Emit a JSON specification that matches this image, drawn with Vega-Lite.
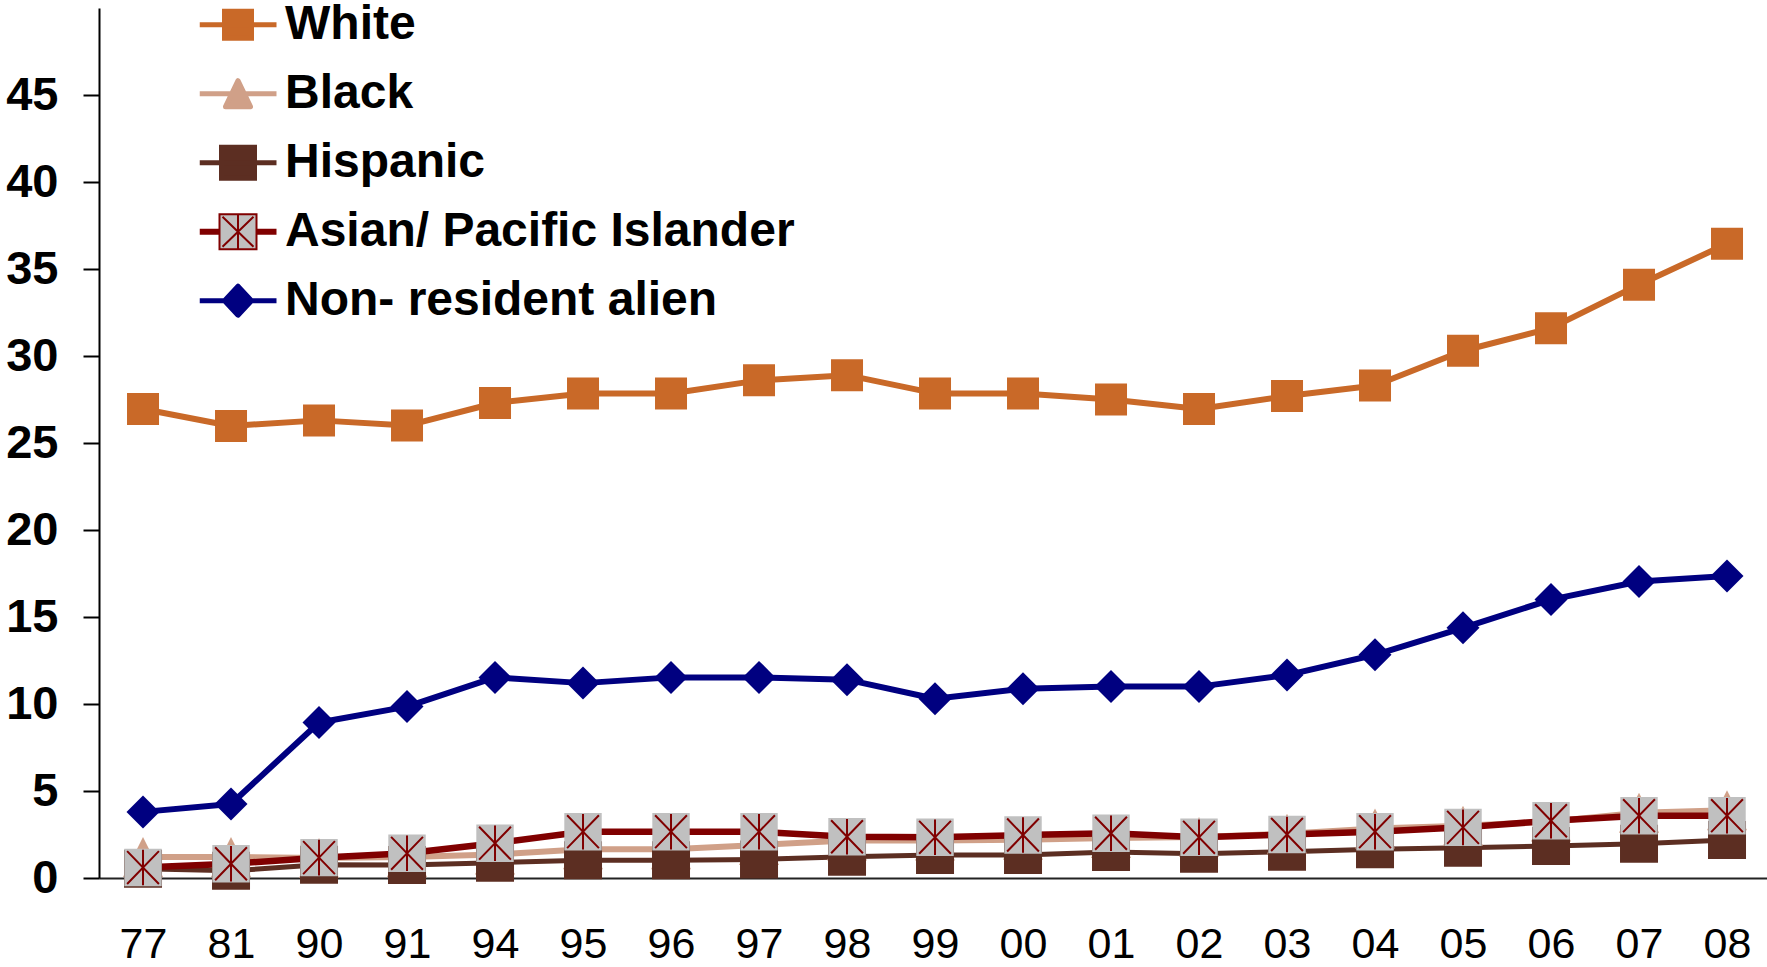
{
  "$schema": "https://vega.github.io/schema/vega-lite/v6.json",
  "width": 1668,
  "height": 870,
  "autosize": "none",
  "padding": {"left": 99, "top": 8, "right": 0, "bottom": 89},
  "background": "white",
  "config": {
    "view": {"stroke": null},
    "font": "Liberation Sans"
  },
  "data": {
    "values": [
      {"year": "77", "series": "White", "value": 26.95},
      {"year": "81", "series": "White", "value": 25.98},
      {"year": "90", "series": "White", "value": 26.3},
      {"year": "91", "series": "White", "value": 26.0},
      {"year": "94", "series": "White", "value": 27.3},
      {"year": "95", "series": "White", "value": 27.85},
      {"year": "96", "series": "White", "value": 27.85},
      {"year": "97", "series": "White", "value": 28.6},
      {"year": "98", "series": "White", "value": 28.9},
      {"year": "99", "series": "White", "value": 27.85},
      {"year": "00", "series": "White", "value": 27.85},
      {"year": "01", "series": "White", "value": 27.5},
      {"year": "02", "series": "White", "value": 26.95},
      {"year": "03", "series": "White", "value": 27.7},
      {"year": "04", "series": "White", "value": 28.3},
      {"year": "05", "series": "White", "value": 30.3},
      {"year": "06", "series": "White", "value": 31.6},
      {"year": "07", "series": "White", "value": 34.1},
      {"year": "08", "series": "White", "value": 36.45},

      {"year": "77", "series": "Black", "value": 1.2},
      {"year": "81", "series": "Black", "value": 1.2},
      {"year": "90", "series": "Black", "value": 1.15},
      {"year": "91", "series": "Black", "value": 1.2},
      {"year": "94", "series": "Black", "value": 1.35},
      {"year": "95", "series": "Black", "value": 1.65},
      {"year": "96", "series": "Black", "value": 1.65},
      {"year": "97", "series": "Black", "value": 1.9},
      {"year": "98", "series": "Black", "value": 2.15},
      {"year": "99", "series": "Black", "value": 2.15},
      {"year": "00", "series": "Black", "value": 2.2},
      {"year": "01", "series": "Black", "value": 2.3},
      {"year": "02", "series": "Black", "value": 2.35},
      {"year": "03", "series": "Black", "value": 2.55},
      {"year": "04", "series": "Black", "value": 2.85},
      {"year": "05", "series": "Black", "value": 3.0},
      {"year": "06", "series": "Black", "value": 3.25},
      {"year": "07", "series": "Black", "value": 3.75},
      {"year": "08", "series": "Black", "value": 3.9},

      {"year": "77", "series": "Hispanic", "value": 0.53},
      {"year": "81", "series": "Hispanic", "value": 0.41},
      {"year": "90", "series": "Hispanic", "value": 0.76},
      {"year": "91", "series": "Hispanic", "value": 0.75},
      {"year": "94", "series": "Hispanic", "value": 0.88},
      {"year": "95", "series": "Hispanic", "value": 1.02},
      {"year": "96", "series": "Hispanic", "value": 1.02},
      {"year": "97", "series": "Hispanic", "value": 1.07},
      {"year": "98", "series": "Hispanic", "value": 1.22},
      {"year": "99", "series": "Hispanic", "value": 1.32},
      {"year": "00", "series": "Hispanic", "value": 1.32},
      {"year": "01", "series": "Hispanic", "value": 1.49},
      {"year": "02", "series": "Hispanic", "value": 1.4},
      {"year": "03", "series": "Hispanic", "value": 1.51},
      {"year": "04", "series": "Hispanic", "value": 1.65},
      {"year": "05", "series": "Hispanic", "value": 1.74},
      {"year": "06", "series": "Hispanic", "value": 1.84},
      {"year": "07", "series": "Hispanic", "value": 1.97},
      {"year": "08", "series": "Hispanic", "value": 2.18},

      {"year": "77", "series": "Asian/ Pacific Islander", "value": 0.6},
      {"year": "81", "series": "Asian/ Pacific Islander", "value": 0.82},
      {"year": "90", "series": "Asian/ Pacific Islander", "value": 1.17},
      {"year": "91", "series": "Asian/ Pacific Islander", "value": 1.42},
      {"year": "94", "series": "Asian/ Pacific Islander", "value": 2.0},
      {"year": "95", "series": "Asian/ Pacific Islander", "value": 2.66},
      {"year": "96", "series": "Asian/ Pacific Islander", "value": 2.66},
      {"year": "97", "series": "Asian/ Pacific Islander", "value": 2.66},
      {"year": "98", "series": "Asian/ Pacific Islander", "value": 2.37},
      {"year": "99", "series": "Asian/ Pacific Islander", "value": 2.34},
      {"year": "00", "series": "Asian/ Pacific Islander", "value": 2.47},
      {"year": "01", "series": "Asian/ Pacific Islander", "value": 2.57},
      {"year": "02", "series": "Asian/ Pacific Islander", "value": 2.34},
      {"year": "03", "series": "Asian/ Pacific Islander", "value": 2.5},
      {"year": "04", "series": "Asian/ Pacific Islander", "value": 2.66},
      {"year": "05", "series": "Asian/ Pacific Islander", "value": 2.91},
      {"year": "06", "series": "Asian/ Pacific Islander", "value": 3.29},
      {"year": "07", "series": "Asian/ Pacific Islander", "value": 3.58},
      {"year": "08", "series": "Asian/ Pacific Islander", "value": 3.58},

      {"year": "77", "series": "Non- resident alien", "value": 3.8},
      {"year": "81", "series": "Non- resident alien", "value": 4.25},
      {"year": "90", "series": "Non- resident alien", "value": 8.94},
      {"year": "91", "series": "Non- resident alien", "value": 9.85},
      {"year": "94", "series": "Non- resident alien", "value": 11.53},
      {"year": "95", "series": "Non- resident alien", "value": 11.2},
      {"year": "96", "series": "Non- resident alien", "value": 11.53},
      {"year": "97", "series": "Non- resident alien", "value": 11.53},
      {"year": "98", "series": "Non- resident alien", "value": 11.4},
      {"year": "99", "series": "Non- resident alien", "value": 10.3},
      {"year": "00", "series": "Non- resident alien", "value": 10.88},
      {"year": "01", "series": "Non- resident alien", "value": 11.0},
      {"year": "02", "series": "Non- resident alien", "value": 11.0},
      {"year": "03", "series": "Non- resident alien", "value": 11.66},
      {"year": "04", "series": "Non- resident alien", "value": 12.83},
      {"year": "05", "series": "Non- resident alien", "value": 14.38},
      {"year": "06", "series": "Non- resident alien", "value": 16.0},
      {"year": "07", "series": "Non- resident alien", "value": 17.04},
      {"year": "08", "series": "Non- resident alien", "value": 17.36}
    ]
  },
  "encoding": {
    "x": {
      "field": "year",
      "type": "ordinal",
      "scale": {
        "type": "point",
        "domain": ["77", "81", "90", "91", "94", "95", "96", "97", "98", "99", "00", "01", "02", "03", "04", "05", "06", "07", "08"],
        "padding": 0.4773,
        "align": 0.524
      },
      "axis": {
        "title": null,
        "labelAngle": 0,
        "labelFont": "Liberation Sans",
        "labelFontSize": 43,
        "labelFontWeight": "normal",
        "labelColor": "black",
        "labelPadding": 45,
        "ticks": false,
        "domain": true,
        "domainColor": "#222222",
        "domainWidth": 2,
        "grid": false
      }
    },
    "y": {
      "field": "value",
      "type": "quantitative",
      "scale": {"domain": [0, 50], "nice": false, "zero": true},
      "axis": {
        "title": null,
        "values": [0, 5, 10, 15, 20, 25, 30, 35, 40, 45],
        "labelFont": "Liberation Sans",
        "labelFontSize": 47,
        "labelFontWeight": "bold",
        "labelColor": "black",
        "labelPadding": 25,
        "ticks": true,
        "tickSize": 16,
        "tickWidth": 2,
        "tickColor": "black",
        "domain": true,
        "domainColor": "black",
        "domainWidth": 2,
        "grid": false
      }
    }
  },
  "layer": [
    {
      "mark": {"type": "line", "strokeJoin": "round"},
      "encoding": {
        "color": {
          "field": "series",
          "type": "nominal",
          "scale": {
            "domain": ["White", "Black", "Hispanic", "Asian/ Pacific Islander", "Non- resident alien"],
            "range": ["#C96928", "#D0A088", "#5C2E22", "#800000", "#000080"]
          },
          "legend": {
            "title": null,
            "orient": "none",
            "legendX": 100.5,
            "legendY": -17.5,
            "padding": 0,
            "rowPadding": 0,
            "clipHeight": 68.4,
            "symbolSize": 4,
            "symbolStrokeWidth": 5,
            "labelFont": "Liberation Sans",
            "labelFontSize": 48,
            "labelFontWeight": "bold",
            "labelColor": "black",
            "labelLimit": 1000,
            "encode": {
              "symbols": {
                "update": {
                  "x": {"value": 38.5},
                  "shape": {"signal": "datum.value === 'White' ? 'M-38.5,0H38.5M-13.5,-13.5H13.5V13.5H-13.5Z' : datum.value === 'Black' ? 'M-38.5,0H38.5M0,-13L12.5,13H-12.5Z' : datum.value === 'Hispanic' ? 'M-38.5,0H38.5M-16.5,-15.5H16.5V15.5H-16.5Z' : datum.value === 'Non- resident alien' ? 'M-38.5,0H38.5M0,-14.5L13.5,0L0,14.5L-13.5,0Z' : 'M-38.5,-2H-19M19,-2H38.5M-38.5,-1H-19M19,-1H38.5M-38.5,0H-19M19,0H38.5M-38.5,1H-19M19,1H38.5M-38.5,2H-19M19,2H38.5M-18.5,-17.5H18.5V17.5H-18.5ZM-15.5,-15L15.5,15M15.5,-15L-15.5,15M0,-17V17'"},
                  "fill": {"signal": "datum.value === 'White' ? '#C96928' : datum.value === 'Black' ? '#D0A088' : datum.value === 'Hispanic' ? '#5C2E22' : datum.value === 'Non- resident alien' ? '#000080' : '#C0C0C0'"},
                  "stroke": {"signal": "datum.value === 'White' ? '#C96928' : datum.value === 'Black' ? '#D0A088' : datum.value === 'Hispanic' ? '#5C2E22' : datum.value === 'Non- resident alien' ? '#000080' : '#800000'"},
                  "strokeWidth": {"signal": "datum.value === 'Asian/ Pacific Islander' ? 2 : 5"},
                  "strokeJoin": {"signal": "datum.value === 'Black' || datum.value === 'Non- resident alien' ? 'round' : 'miter'"},
                  "opacity": {"value": 1}
                }
              },
              "labels": {
                "update": {
                  "x": {"value": 85.5}
                }
              }
            }
          }
        },
        "strokeWidth": {
          "field": "series",
          "type": "nominal",
          "scale": {
            "type": "ordinal",
            "domain": ["Non- resident alien", "White", "Black", "Hispanic", "Asian/ Pacific Islander"],
            "range": [6, 6, 6, 5, 6.5]
          },
          "legend": null
        }
      }
    },
    {
      "mark": {"type": "point", "filled": true, "opacity": 1, "strokeWidth": 0},
      "encoding": {
        "shape": {
          "field": "series",
          "type": "nominal",
          "scale": {
            "domain": ["Non- resident alien", "White", "Black", "Hispanic", "Asian/ Pacific Islander"],
            "range": ["diamond", "square", "M0,-1L1,1L-1,1Z", "square", "square"]
          },
          "legend": null
        },
        "fill": {
          "field": "series",
          "type": "nominal",
          "scale": {
            "domain": ["Non- resident alien", "White", "Black", "Hispanic", "Asian/ Pacific Islander"],
            "range": ["#000080", "#C96928", "#D0A088", "#5C2E22", "#C0C0C0"]
          },
          "legend": null
        },
        "size": {
          "field": "series",
          "type": "nominal",
          "scale": {
            "type": "ordinal",
            "domain": ["Non- resident alien", "White", "Black", "Hispanic", "Asian/ Pacific Islander"],
            "range": [1089, 1024, 1600, 1444, 1400]
          },
          "legend": null
        }
      }
    },
    {
      "transform": [{"filter": "datum.series === 'Asian/ Pacific Islander'"}],
      "mark": {
        "type": "point",
        "filled": false,
        "shape": "M-0.85,-0.88L0.85,0.88M0.85,-0.88L-0.85,0.88M0,-0.95V0.95",
        "size": 1400,
        "stroke": "#800000",
        "strokeWidth": 2,
        "opacity": 1
      }
    }
  ]
}
